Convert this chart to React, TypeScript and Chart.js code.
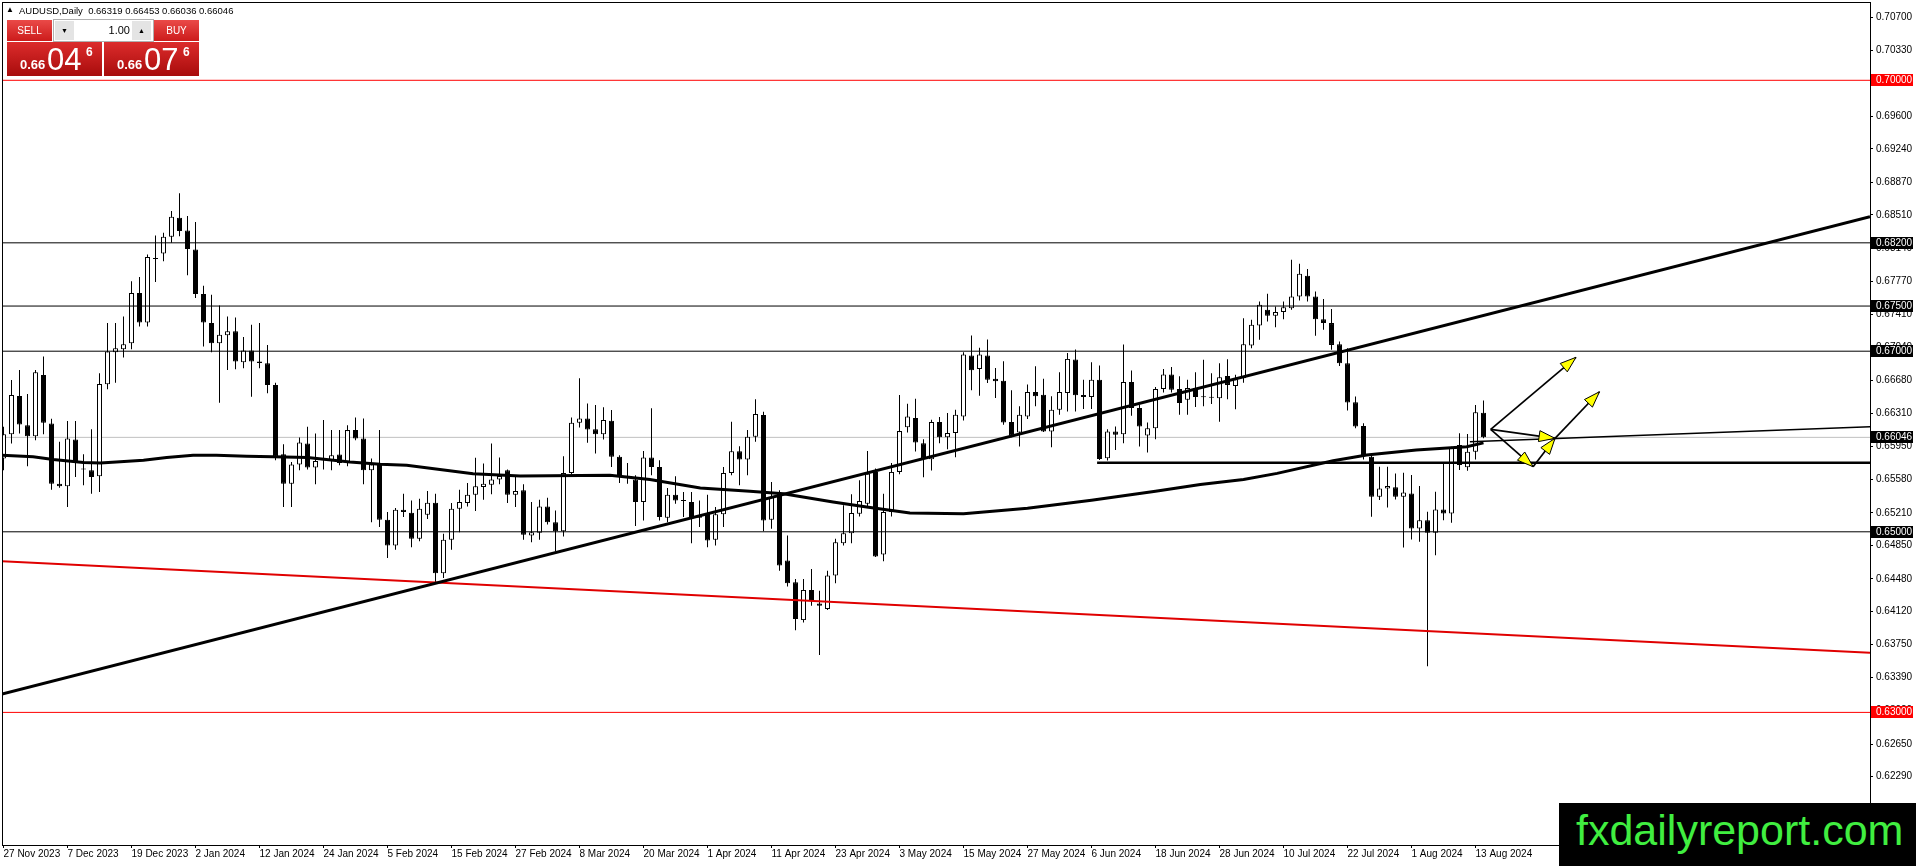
import React, { useEffect, useRef } from 'react';
import { Chart, registerables } from 'chart.js';

Chart.register(...registerables);

// ---------- DATA ----------
const symbolTitle = 'AUDUSD,Daily';

const opens = [
  0.65811, 0.66081, 0.66504, 0.66181, 0.66059, 0.66737, 0.66200, 0.65533, 0.65504, 0.66022,
  0.65689, 0.65681, 0.65615, 0.66633, 0.66989, 0.67022, 0.67089, 0.67644, 0.67319, 0.68031,
  0.68081, 0.68267, 0.68478, 0.68337, 0.68126, 0.67633, 0.67311, 0.67089, 0.67178, 0.67222,
  0.66878, 0.67007, 0.66885, 0.66867, 0.66626, 0.65859, 0.65533, 0.65744, 0.65978, 0.65711,
  0.65793, 0.65793, 0.65856, 0.65763, 0.66126, 0.66033, 0.65681, 0.65756, 0.65133, 0.64848,
  0.65244, 0.65211, 0.64922, 0.65189, 0.65322, 0.64541, 0.64911, 0.65256, 0.65319, 0.65411,
  0.65496, 0.65522, 0.65578, 0.65681, 0.65411, 0.65459, 0.64959, 0.64989, 0.65281, 0.65107,
  0.65007, 0.65652, 0.66207, 0.66256, 0.66137, 0.66081, 0.66230, 0.65830, 0.65610, 0.65578,
  0.65330, 0.65822, 0.65719, 0.65156, 0.65411, 0.65340, 0.65330, 0.65156, 0.65200, 0.64911,
  0.65193, 0.65652, 0.65893, 0.65800, 0.66052, 0.66293, 0.65133, 0.65430, 0.64681, 0.64441,
  0.64022, 0.64356, 0.64207, 0.64144, 0.64515, 0.64874, 0.64985, 0.65200, 0.65311, 0.65663,
  0.64748, 0.65219, 0.65663, 0.66159, 0.66259, 0.65981, 0.65804, 0.66215, 0.66048, 0.66093,
  0.66278, 0.66952, 0.66804, 0.66952, 0.66696, 0.66674, 0.66215, 0.66100, 0.66278, 0.66548,
  0.66519, 0.66111, 0.66352, 0.66537, 0.66907, 0.66515, 0.66493, 0.66685, 0.65815, 0.66111,
  0.66081, 0.66659, 0.66370, 0.66067, 0.66148, 0.66581, 0.66741, 0.66581, 0.66463, 0.66593,
  0.66493, 0.66490, 0.66479, 0.66726, 0.66616, 0.66701, 0.67063, 0.67285, 0.67458, 0.67392,
  0.67433, 0.67477, 0.67606, 0.67835, 0.67606, 0.67355, 0.67311, 0.67078, 0.66867, 0.66434,
  0.66172, 0.65832, 0.65388, 0.65480, 0.65492, 0.65388, 0.65425, 0.65037, 0.65129, 0.64989,
  0.65248, 0.65203, 0.65961, 0.65714, 0.65887, 0.66319,
];

const highs = [
  0.66163, 0.66681, 0.66793, 0.66526, 0.66793, 0.66941, 0.66252, 0.65996, 0.66226, 0.66226,
  0.65859, 0.66137, 0.66756, 0.67311, 0.67311, 0.67385, 0.67774, 0.67822, 0.68070, 0.68281,
  0.68311, 0.68552, 0.68748, 0.68496, 0.68430, 0.67726, 0.67626, 0.67507, 0.67385, 0.67374,
  0.67156, 0.67293, 0.67311, 0.67070, 0.66652, 0.65970, 0.65774, 0.66044, 0.66163, 0.66089,
  0.66237, 0.66126, 0.66126, 0.66181, 0.66267, 0.66256, 0.65811, 0.66126, 0.65219, 0.65263,
  0.65422, 0.65348, 0.65367, 0.65452, 0.65422, 0.64978, 0.65319, 0.65467, 0.65541, 0.65819,
  0.65756, 0.65978, 0.65822, 0.65689, 0.65607, 0.65526, 0.65330, 0.65356, 0.65378, 0.65237,
  0.65837, 0.66267, 0.66700, 0.66422, 0.66404, 0.66378, 0.66348, 0.65848, 0.65763, 0.65626,
  0.65896, 0.66367, 0.65793, 0.65485, 0.65615, 0.65441, 0.65441, 0.65348, 0.65411, 0.65274,
  0.65719, 0.66219, 0.65948, 0.66126, 0.66467, 0.66330, 0.65552, 0.65459, 0.64959, 0.64478,
  0.64478, 0.64589, 0.64348, 0.64570, 0.64922, 0.65293, 0.65415, 0.65570, 0.65896, 0.65700,
  0.65422, 0.65763, 0.66515, 0.66419, 0.66474, 0.66026, 0.66241, 0.66270, 0.66315, 0.66352,
  0.66989, 0.67174, 0.67037, 0.67130, 0.66815, 0.66889, 0.66567, 0.66389, 0.66630, 0.66833,
  0.66696, 0.66500, 0.66767, 0.66981, 0.67019, 0.66685, 0.66878, 0.66841, 0.66137, 0.66167,
  0.67074, 0.66785, 0.66407, 0.66211, 0.66604, 0.66804, 0.66826, 0.66722, 0.66685, 0.66767,
  0.66904, 0.66756, 0.66867, 0.66911, 0.66738, 0.67366, 0.67348, 0.67551, 0.67636, 0.67495,
  0.67551, 0.68013, 0.67969, 0.67909, 0.67662, 0.67577, 0.67466, 0.67107, 0.67033, 0.66497,
  0.66201, 0.65850, 0.65721, 0.65721, 0.65647, 0.65654, 0.65628, 0.65506, 0.65222, 0.65444,
  0.65758, 0.65943, 0.66091, 0.66083, 0.66405, 0.66453,
];

const lows = [
  0.65681, 0.65978, 0.66089, 0.65726, 0.66015, 0.66081, 0.65467, 0.65489, 0.65274, 0.65607,
  0.65515, 0.65422, 0.65441, 0.66578, 0.66652, 0.66930, 0.67022, 0.67274, 0.67274, 0.67767,
  0.67996, 0.68200, 0.68274, 0.67841, 0.67589, 0.67052, 0.66989, 0.66430, 0.66793, 0.66800,
  0.66811, 0.66496, 0.66811, 0.66533, 0.65793, 0.65274, 0.65274, 0.65681, 0.65689, 0.65526,
  0.65689, 0.65681, 0.65737, 0.65726, 0.66015, 0.65526, 0.65107, 0.65052, 0.64711, 0.64800,
  0.65163, 0.64830, 0.64896, 0.65141, 0.64441, 0.64489, 0.64800, 0.64996, 0.65281, 0.65230,
  0.65356, 0.65415, 0.65526, 0.65319, 0.65274, 0.64911, 0.64885, 0.64911, 0.65081, 0.64785,
  0.64948, 0.65637, 0.66156, 0.65985, 0.65867, 0.66022, 0.65719, 0.65541, 0.65533, 0.65063,
  0.65126, 0.65626, 0.65126, 0.65107, 0.65311, 0.65163, 0.64874, 0.65052, 0.64830, 0.64848,
  0.65052, 0.65626, 0.65515, 0.65626, 0.65996, 0.65007, 0.65033, 0.64570, 0.64393, 0.63911,
  0.63996, 0.64181, 0.63637, 0.64133, 0.64430, 0.64848, 0.64874, 0.65170, 0.65274, 0.64720,
  0.64674, 0.65170, 0.65637, 0.66100, 0.65889, 0.65604, 0.65678, 0.65981, 0.65915, 0.65826,
  0.66233, 0.66567, 0.66507, 0.66648, 0.66481, 0.66185, 0.66048, 0.65944, 0.66248, 0.66389,
  0.66105, 0.65937, 0.66296, 0.66333, 0.66333, 0.66359, 0.66359, 0.65796, 0.65789, 0.65907,
  0.65981, 0.66285, 0.65944, 0.65878, 0.66026, 0.66544, 0.66544, 0.66296, 0.66296, 0.66381,
  0.66390, 0.66416, 0.66220, 0.66468, 0.66357, 0.66652, 0.67033, 0.67126, 0.67329, 0.67266,
  0.67355, 0.67458, 0.67562, 0.67551, 0.67170, 0.67237, 0.67015, 0.66837, 0.66342, 0.66146,
  0.65802, 0.65166, 0.65351, 0.65270, 0.65359, 0.64826, 0.64915, 0.64889, 0.63510, 0.64741,
  0.65129, 0.65100, 0.65684, 0.65677, 0.65802, 0.66036,
];

const closes = [
  0.66081, 0.66515, 0.66189, 0.66059, 0.66767, 0.66207, 0.65533, 0.65504, 0.66033, 0.65774,
  0.65696, 0.65607, 0.66637, 0.66996, 0.67033, 0.67078, 0.67644, 0.67319, 0.68044, 0.68022,
  0.68267, 0.68489, 0.68330, 0.68133, 0.67633, 0.67319, 0.67089, 0.67181, 0.67222, 0.66885,
  0.67007, 0.66885, 0.66870, 0.66626, 0.65830, 0.65533, 0.65744, 0.65989, 0.65711, 0.65785,
  0.65800, 0.65848, 0.65763, 0.66126, 0.66033, 0.65681, 0.65744, 0.65133, 0.64848, 0.65244,
  0.65219, 0.64922, 0.65256, 0.65322, 0.64541, 0.64911, 0.65256, 0.65330, 0.65411, 0.65504,
  0.65533, 0.65578, 0.65619, 0.65411, 0.65452, 0.64967, 0.64996, 0.65281, 0.65107, 0.65007,
  0.65652, 0.66207, 0.66256, 0.66133, 0.66081, 0.66237, 0.65830, 0.65607, 0.65615, 0.65330,
  0.65822, 0.65719, 0.65163, 0.65411, 0.65348, 0.65341, 0.65163, 0.65181, 0.64904, 0.65193,
  0.65652, 0.65893, 0.65800, 0.66052, 0.66304, 0.65126, 0.65385, 0.64626, 0.64430, 0.64033,
  0.64356, 0.64230, 0.64181, 0.64515, 0.64885, 0.64985, 0.65207, 0.65341, 0.65644, 0.64726,
  0.65219, 0.65663, 0.66115, 0.66278, 0.65989, 0.65815, 0.66215, 0.66048, 0.66093, 0.66296,
  0.66963, 0.66789, 0.66963, 0.66685, 0.66667, 0.66211, 0.66063, 0.66296, 0.66548, 0.66500,
  0.66111, 0.66352, 0.66548, 0.66915, 0.66511, 0.66493, 0.66685, 0.65807, 0.66111, 0.66074,
  0.66659, 0.66370, 0.66167, 0.66148, 0.66581, 0.66741, 0.66574, 0.66426, 0.66593, 0.66493,
  0.66489, 0.66484, 0.66712, 0.66627, 0.66690, 0.67078, 0.67292, 0.67514, 0.67392, 0.67433,
  0.67488, 0.67606, 0.67858, 0.67606, 0.67355, 0.67311, 0.67070, 0.66867, 0.66431, 0.66165,
  0.65839, 0.65388, 0.65480, 0.65506, 0.65388, 0.65436, 0.65037, 0.65129, 0.64989, 0.65248,
  0.65203, 0.65935, 0.65739, 0.65887, 0.66323, 0.66046,
];

// date axis: bar index of each label and its text
const tickBars = [0, 8, 16, 24, 32, 40, 48, 56, 64, 72, 80, 88, 96, 104, 112, 120, 128, 136, 144, 152, 160, 168, 176, 184];
const dateLabels = [
  '27 Nov 2023', '7 Dec 2023', '19 Dec 2023', '2 Jan 2024', '12 Jan 2024', '24 Jan 2024',
  '5 Feb 2024', '15 Feb 2024', '27 Feb 2024', '8 Mar 2024', '20 Mar 2024', '1 Apr 2024',
  '11 Apr 2024', '23 Apr 2024', '3 May 2024', '15 May 2024', '27 May 2024', '6 Jun 2024',
  '18 Jun 2024', '28 Jun 2024', '10 Jul 2024', '22 Jul 2024', '1 Aug 2024', '13 Aug 2024',
];

// price axis labels
const priceTicks = [
  0.70700, 0.70330, 0.69970, 0.69600, 0.69240, 0.68870, 0.68510, 0.68140, 0.67770, 0.67410,
  0.67040, 0.66680, 0.66310, 0.65950, 0.65580, 0.65210, 0.64850, 0.64480, 0.64120, 0.63750,
  0.63390, 0.63020, 0.62650, 0.62290,
];

// visible window (bars / price)
const X_MIN = -0.1875;
const X_MAX = 233.3125;
const Y_MIN = 0.615316;
const Y_MAX = 0.708671;

// moving average (sampled along the curve)
const maBars = [-0.19, 3.7, 6.2, 10.0, 12.1, 14.1, 17.5, 20.4, 23.7, 26.6, 30.4, 33.7, 38.0, 43.3, 47.1, 50.4, 58.7, 64.6, 75.8, 80.8, 87.1, 93.3, 97.5, 103.7, 107.9, 113.3, 120, 128, 136, 144, 149.6, 155.0, 159.2, 166.2, 170.4, 176.6, 182.9, 185];
const maValues = [0.65848, 0.65830, 0.65800, 0.65767, 0.65763, 0.65774, 0.65793, 0.65822, 0.65848, 0.65848, 0.65837, 0.65830, 0.65822, 0.65774, 0.65748, 0.65737, 0.65644, 0.65619, 0.65626, 0.65578, 0.65485, 0.65448, 0.65422, 0.65330, 0.65274, 0.65207, 0.65200, 0.65260, 0.65350, 0.65450, 0.65525, 0.65580, 0.65647, 0.65787, 0.65850, 0.65906, 0.65943, 0.65985];

// horizontal levels
const blackLevels = [0.68200, 0.67500, 0.67000, 0.65000];
const redLevels = [0.70000, 0.63000];
const bidPrice = 0.66046;
const askPrice = 0.66076;
const supportLevel = 0.65765;
const supportStartBar = 136.7;

// trend lines (bar, price) endpoints
const upTrendBars = [X_MIN, X_MAX];
const upTrendPrices = [0.63204, 0.68490];
const redTrendBars = [X_MIN, X_MAX];
const redTrendPrices = [0.64675, 0.63661];
const projLineBars = [183.3, X_MAX];
const projLinePrices = [0.65998, 0.66164];

// arrows (bar, price)
const arrowStartBar = [185.9, 185.9, 185.9, 191.2, 193.94];
const arrowStartPrice = [0.66135, 0.66135, 0.66135, 0.65721, 0.66035];
const arrowEndBar = [196.56, 193.94, 191.2, 193.94, 199.5];
const arrowEndPrice = [0.66932, 0.66035, 0.65721, 0.66035, 0.66551];

// boxed labels on the price axis
const axisMarkPrices = [0.70000, 0.68200, 0.67500, 0.67000, 0.66046, 0.65000, 0.63000];
const axisMarkColors = ['#ff0000', '#000000', '#000000', '#000000', '#000000', '#000000', '#ff0000'];

const FONT = '"Liberation Sans", Arial, sans-serif';

const overlayPlugin = {
  id: 'mt4overlay',
  beforeDraw(chart: any) {
    const { ctx, width, height } = chart;
    ctx.save();
    ctx.fillStyle = '#ffffff';
    ctx.fillRect(0, 0, width, height);
    ctx.restore();
  },
  afterDatasetsDraw(chart: any) {
    const { ctx, chartArea: a, scales } = chart;
    const xs = scales.x;
    const ys = scales.y;
    ctx.save();
    ctx.beginPath();
    ctx.rect(a.left, a.top, a.right - a.left, a.bottom - a.top);
    ctx.clip();
    for (let k = 0; k < arrowStartBar.length; k++) {
      const x1 = xs.getPixelForValue(arrowStartBar[k]);
      const y1 = ys.getPixelForValue(arrowStartPrice[k]);
      const x2 = xs.getPixelForValue(arrowEndBar[k]);
      const y2 = ys.getPixelForValue(arrowEndPrice[k]);
      ctx.strokeStyle = '#000000';
      ctx.lineWidth = 1.7;
      ctx.beginPath();
      ctx.moveTo(x1, y1);
      ctx.lineTo(x2, y2);
      ctx.stroke();
      const ang = Math.atan2(y2 - y1, x2 - x1);
      const L = 16;
      const W = 5.5;
      const bx = x2 - L * Math.cos(ang);
      const by = y2 - L * Math.sin(ang);
      const px = -Math.sin(ang) * W;
      const py = Math.cos(ang) * W;
      ctx.beginPath();
      ctx.moveTo(x2, y2);
      ctx.lineTo(bx + px, by + py);
      ctx.lineTo(bx - px, by - py);
      ctx.closePath();
      ctx.fillStyle = '#ffff00';
      ctx.fill();
      ctx.lineWidth = 1;
      ctx.stroke();
    }
    ctx.restore();
  },
  afterDraw(chart: any) {
    const { ctx, chartArea: a, scales } = chart;
    const ys = scales.y;
    ctx.save();
    ctx.strokeStyle = '#000000';
    ctx.lineWidth = 1;
    ctx.strokeRect(a.left + 0.5, a.top + 0.5, a.right - a.left, a.bottom - a.top);
    ctx.font = '10px ' + FONT;
    ctx.textBaseline = 'middle';
    ctx.textAlign = 'left';
    for (let k = 0; k < axisMarkPrices.length; k++) {
      const y = Math.round(ys.getPixelForValue(axisMarkPrices[k]));
      ctx.fillStyle = axisMarkColors[k];
      ctx.fillRect(a.right + 1, y - 6, 42, 12);
      ctx.fillStyle = '#ffffff';
      ctx.fillText(axisMarkPrices[k].toFixed(5), a.right + 6, y);
    }
    ctx.restore();
  },
};

export default function App() {
  const ref = useRef<HTMLCanvasElement>(null);

  useEffect(() => {
    const canvas = ref.current;
    if (!canvas) return;
    const bars = opens.map((_, i) => i);
    const bodyData = bars.map((i) => ({ x: i, y: [opens[i], closes[i]] }));
    const wickData = bars.map((i) => ({ x: i, y: [lows[i], highs[i]] }));
    const bodyFill = bars.map((i) => (closes[i] >= opens[i] ? '#ffffff' : '#000000'));

    const seg = (xa: number[], ya: number[]) => xa.map((x, k) => ({ x, y: ya[k] }));
    const lineDs = (data: any[], color: string, width: number, order: number) => ({
      type: 'line',
      data,
      borderColor: color,
      backgroundColor: color,
      borderWidth: width,
      pointRadius: 0,
      pointHoverRadius: 0,
      fill: false,
      tension: 0,
      order,
    });

    const datasets: any[] = [
      lineDs(seg([X_MIN, X_MAX], [bidPrice, bidPrice]), '#c0c0c0', 1, 6),
      {
        type: 'bar',
        data: wickData,
        backgroundColor: '#000000',
        borderWidth: 0,
        grouped: false,
        barThickness: 1,
        inflateAmount: 0,
        order: 5,
      },
      {
        type: 'bar',
        data: bodyData,
        backgroundColor: bodyFill,
        borderColor: '#000000',
        borderWidth: 1,
        borderSkipped: false,
        grouped: false,
        barThickness: 5,
        minBarLength: 1,
        inflateAmount: 0,
        order: 4,
      },
      ...redLevels.map((v) => lineDs(seg([X_MIN, X_MAX], [v, v]), '#ff0000', 1, 3)),
      ...blackLevels.map((v) => lineDs(seg([X_MIN, X_MAX], [v, v]), '#000000', 1, 3)),
      lineDs(seg([supportStartBar, X_MAX], [supportLevel, supportLevel]), '#000000', 2.5, 2),
      lineDs(seg(redTrendBars, redTrendPrices), '#e00000', 2, 2),
      lineDs(seg(maBars, maValues), '#000000', 3, 1),
      lineDs(seg(upTrendBars, upTrendPrices), '#000000', 3, 1),
      lineDs(seg(projLineBars, projLinePrices), '#000000', 1.5, 1),
    ];

    const chart = new Chart(canvas, {
      type: 'bar',
      data: { datasets },
      options: {
        animation: false,
        responsive: false,
        events: [],
        layout: { padding: { left: 2, top: 2, right: 0, bottom: 0 } },
        plugins: { legend: { display: false }, tooltip: { enabled: false } },
        scales: {
          x: {
            type: 'linear',
            min: X_MIN,
            max: X_MAX,
            offset: false,
            border: { display: false },
            grid: { display: true, drawOnChartArea: false, drawTicks: true, tickLength: 3, color: '#000000', offset: false },
            ticks: {
              autoSkip: false,
              maxRotation: 0,
              minRotation: 0,
              align: 'start',
              padding: 0,
              color: '#000000',
              font: { family: FONT, size: 10 },
              callback: (v: any) => {
                const k = tickBars.indexOf(Number(v));
                return k >= 0 ? dateLabels[k] : '';
              },
            },
            afterBuildTicks: (s: any) => {
              s.ticks = tickBars.map((v) => ({ value: v }));
            },
            afterFit: (s: any) => {
              s.height = 21;
              s.paddingLeft = 0;
              s.paddingRight = 0;
            },
          },
          y: {
            type: 'linear',
            position: 'right',
            min: Y_MIN,
            max: Y_MAX,
            border: { display: false },
            grid: { display: true, drawOnChartArea: false, drawTicks: true, tickLength: 3, color: '#000000' },
            ticks: {
              autoSkip: false,
              padding: 3,
              color: '#000000',
              font: { family: FONT, size: 10 },
              callback: (v: any) => Number(v).toFixed(5),
            },
            afterBuildTicks: (s: any) => {
              s.ticks = priceTicks.map((v) => ({ value: v }));
            },
            afterFit: (s: any) => {
              s.width = 46;
              s.paddingTop = 0;
              s.paddingBottom = 0;
            },
          },
        },
      } as any,
      plugins: [overlayPlugin as any],
    });
    return () => chart.destroy();
  }, []);

  const last = opens.length - 1;
  const headerText = `${symbolTitle}  ${opens[last].toFixed(5)} ${highs[last].toFixed(5)} ${lows[last].toFixed(5)} ${closes[last].toFixed(5)}`;
  const bidStr = bidPrice.toFixed(5);
  const askStr = askPrice.toFixed(5);

  const btnRed = 'linear-gradient(#ea4a48, #cc1b1b)';
  const boxRed = 'linear-gradient(#dc2c2c, #a80c0c)';

  const priceBox = (left: number, s: string) => (
    <div style={{ position: 'absolute', left, top: 42, width: 95, height: 34, background: boxRed }}>
      <span style={{ position: 'absolute', left: 13, top: 16, fontSize: 13, fontWeight: 'bold', lineHeight: '13px', color: '#fff' }}>{s.slice(0, 4)}</span>
      <span style={{ position: 'absolute', left: 40, top: 2, fontSize: 31, lineHeight: '31px', color: '#fff' }}>{s.slice(4, 6)}</span>
      <span style={{ position: 'absolute', left: 79, top: 4, fontSize: 12, fontWeight: 'bold', lineHeight: '12px', color: '#fff' }}>{s.slice(6, 7)}</span>
    </div>
  );

  return (
    <div style={{ position: 'absolute', left: 0, top: 0, width: 1916, height: 866, background: '#fff', overflow: 'hidden', fontFamily: FONT }}>
      <canvas ref={ref} width={1916} height={866} style={{ position: 'absolute', left: 0, top: 0, width: 1916, height: 866 }} />
      {/* header */}
      <span style={{ position: 'absolute', left: 6, top: 6, fontSize: 8, lineHeight: '8px', color: '#000' }}>▲</span>
      <span style={{ position: 'absolute', left: 19, top: 5, fontSize: 9.5, lineHeight: '12px', color: '#000', whiteSpace: 'pre' }}>{headerText}</span>
      {/* one-click trading panel */}
      <div style={{ position: 'absolute', left: 7, top: 20, width: 45, height: 21, background: btnRed, color: '#fff', fontSize: 10, lineHeight: '21px', textAlign: 'center' }}>SELL</div>
      <div style={{ position: 'absolute', left: 53, top: 19, width: 99, height: 21, background: '#fff', border: '1px solid #b0b0b0' }}>
        <div style={{ position: 'absolute', left: 1, top: 1, width: 19, height: 19, background: '#e4e4e4', fontSize: 7, lineHeight: '19px', textAlign: 'center', color: '#000' }}>▼</div>
        <div style={{ position: 'absolute', left: 52, top: 1, width: 24, height: 19, fontSize: 11, lineHeight: '19px', textAlign: 'right', color: '#000' }}>1.00</div>
        <div style={{ position: 'absolute', left: 78, top: 1, width: 19, height: 19, background: '#e4e4e4', fontSize: 7, lineHeight: '19px', textAlign: 'center', color: '#000' }}>▲</div>
      </div>
      <div style={{ position: 'absolute', left: 154, top: 20, width: 45, height: 21, background: btnRed, color: '#fff', fontSize: 10, lineHeight: '21px', textAlign: 'center' }}>BUY</div>
      {priceBox(7, bidStr)}
      {priceBox(104, askStr)}
      {/* watermark */}
      <div style={{ position: 'absolute', left: 1559, top: 803, width: 357, height: 63, background: '#000' }}>
        <span style={{ position: 'absolute', left: 17, top: 6, fontSize: 43, lineHeight: '43px', color: '#40ee40', whiteSpace: 'nowrap' }}>fxdailyreport.com</span>
      </div>
    </div>
  );
}
